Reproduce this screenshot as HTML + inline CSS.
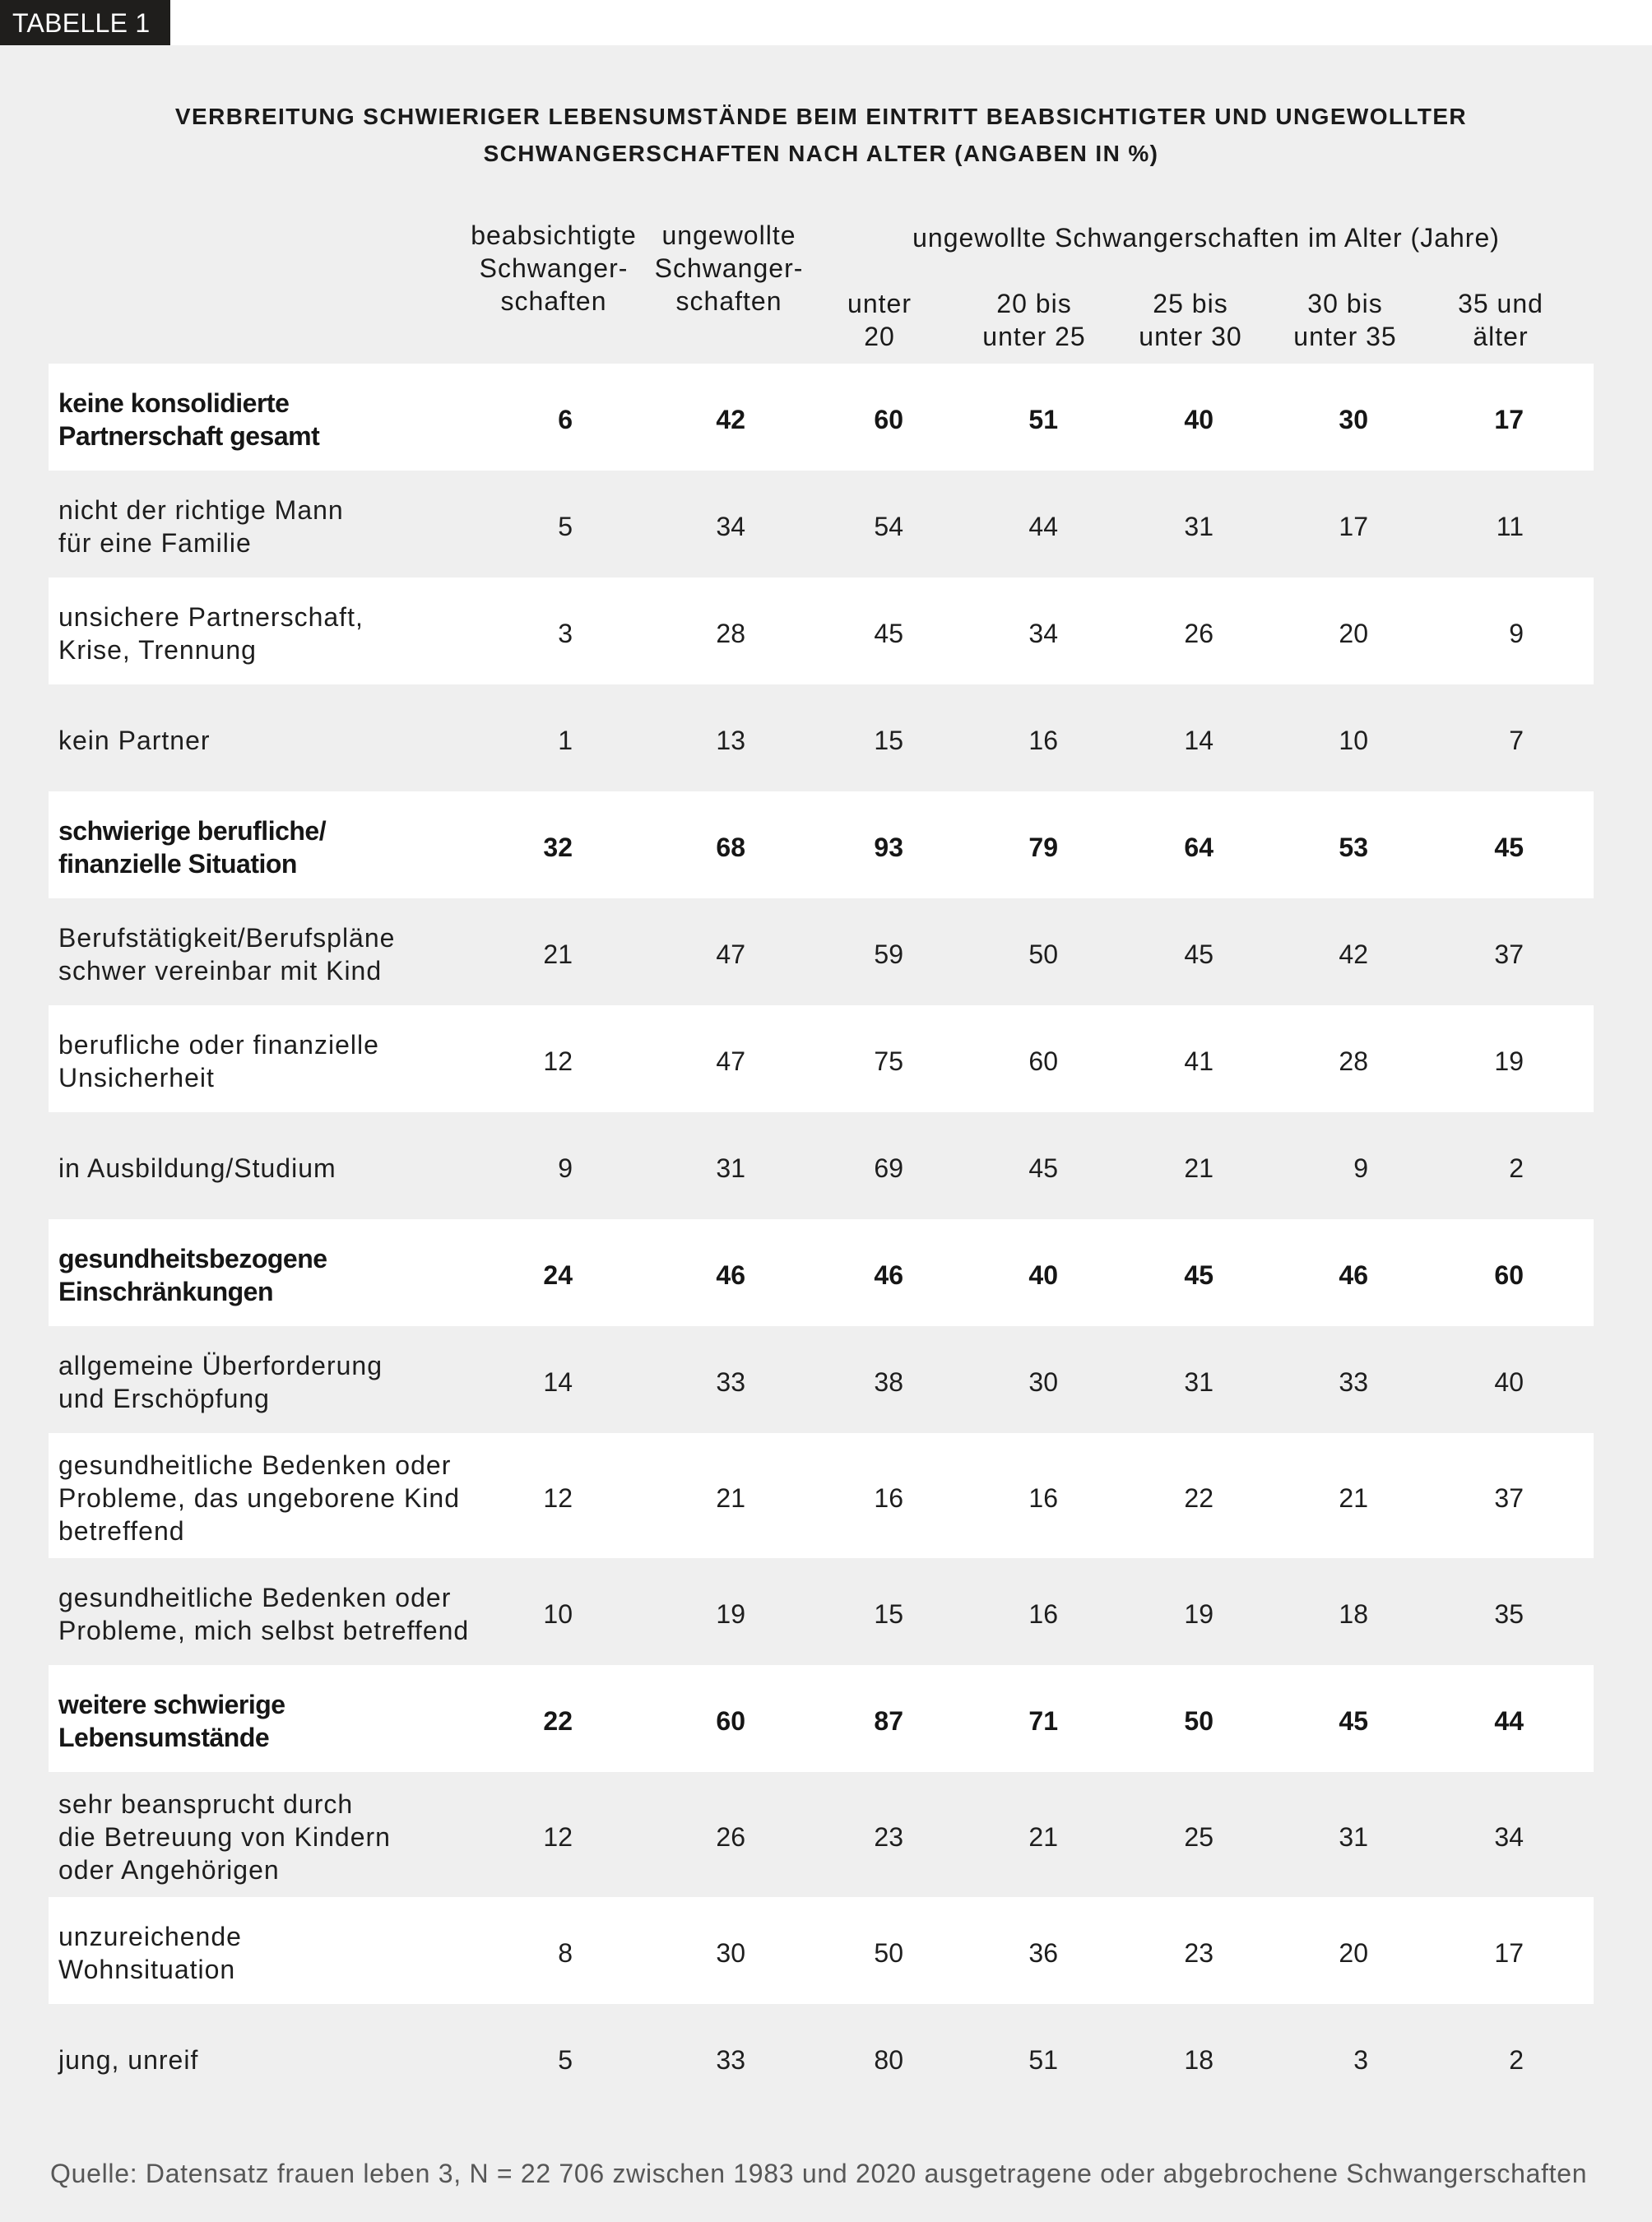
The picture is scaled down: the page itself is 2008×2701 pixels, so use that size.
<!DOCTYPE html>
<html>
<head>
<meta charset="utf-8">
<style>
  html, body { margin:0; padding:0; }
  body { width:2008px; height:2701px; background:#efefef; position:relative; overflow:hidden;
         font-family:"Liberation Sans", Arial, sans-serif; color:#1c1c1c; }
  .topband { position:absolute; left:0; top:0; width:2008px; height:55px; background:#ffffff; }
  .tab { position:absolute; left:0; top:0; width:207px; height:55px; background:#1f1e1c; color:#fff;
         font-size:32px; line-height:57px; padding-left:15px; box-sizing:border-box; letter-spacing:0.3px; }
  .title { position:absolute; left:0; top:119px; width:1996px; text-align:center; font-weight:bold;
           font-size:28px; line-height:45px; letter-spacing:1.4px; color:#1a1a1a; }
  .hd { position:absolute; text-align:center; font-size:32px; line-height:40px; letter-spacing:1px; color:#1a1a1a; white-space:nowrap; }
  .row { position:absolute; left:59px; width:1878px; }
  .row.w { background:#ffffff; }
  .lab { position:absolute; left:12px; top:3px; height:100%; display:flex; align-items:center;
         font-size:32px; line-height:40px; letter-spacing:1px; color:#1e1e1e; white-space:nowrap; }
  .row.b .lab { font-weight:bold; letter-spacing:-0.5px; color:#161616; }
  .v { position:absolute; top:3px; height:100%; display:flex; align-items:center; font-size:32px; color:#1e1e1e; }
  .row.b .v { font-weight:bold; color:#161616; }
  .c1 { right:1241px; } .c2 { right:1031px; } .c3 { right:839px; } .c4 { right:651px; }
  .c5 { right:462px; } .c6 { right:274px; } .c7 { right:85px; }
  .foot { position:absolute; left:61px; top:2622px; font-size:32px; line-height:40px; letter-spacing:0.7px;
          color:#575757; white-space:nowrap; }
</style>
</head>
<body>
<div class="topband"></div>
<div class="tab">TABELLE 1</div>

<div class="title">VERBREITUNG SCHWIERIGER LEBENSUMSTÄNDE BEIM EINTRITT BEABSICHTIGTER UND UNGEWOLLTER<br>SCHWANGERSCHAFTEN NACH ALTER (ANGABEN IN %)</div>

<div class="hd" style="left:523px; top:266px; width:300px;">beabsichtigte<br>Schwanger-<br>schaften</div>
<div class="hd" style="left:736px; top:266px; width:300px;">ungewollte<br>Schwanger-<br>schaften</div>
<div class="hd" style="left:1066px; top:269px; width:800px;">ungewollte Schwangerschaften im Alter (Jahre)</div>
<div class="hd" style="left:969px; top:349px; width:200px;">unter<br>20</div>
<div class="hd" style="left:1157px; top:349px; width:200px;">20 bis<br>unter 25</div>
<div class="hd" style="left:1347px; top:349px; width:200px;">25 bis<br>unter 30</div>
<div class="hd" style="left:1535px; top:349px; width:200px;">30 bis<br>unter 35</div>
<div class="hd" style="left:1724px; top:349px; width:200px;">35 und<br>älter</div>

<div class="row w b" style="top:442px; height:130px;">
  <div class="lab">keine konsolidierte<br>Partnerschaft gesamt</div>
  <div class="v c1">6</div><div class="v c2">42</div><div class="v c3">60</div><div class="v c4">51</div><div class="v c5">40</div><div class="v c6">30</div><div class="v c7">17</div>
</div>
<div class="row" style="top:572px; height:130px;">
  <div class="lab">nicht der richtige Mann<br>für eine Familie</div>
  <div class="v c1">5</div><div class="v c2">34</div><div class="v c3">54</div><div class="v c4">44</div><div class="v c5">31</div><div class="v c6">17</div><div class="v c7">11</div>
</div>
<div class="row w" style="top:702px; height:130px;">
  <div class="lab">unsichere Partnerschaft,<br>Krise, Trennung</div>
  <div class="v c1">3</div><div class="v c2">28</div><div class="v c3">45</div><div class="v c4">34</div><div class="v c5">26</div><div class="v c6">20</div><div class="v c7">9</div>
</div>
<div class="row" style="top:832px; height:130px;">
  <div class="lab">kein Partner</div>
  <div class="v c1">1</div><div class="v c2">13</div><div class="v c3">15</div><div class="v c4">16</div><div class="v c5">14</div><div class="v c6">10</div><div class="v c7">7</div>
</div>
<div class="row w b" style="top:962px; height:130px;">
  <div class="lab">schwierige berufliche/<br>finanzielle Situation</div>
  <div class="v c1">32</div><div class="v c2">68</div><div class="v c3">93</div><div class="v c4">79</div><div class="v c5">64</div><div class="v c6">53</div><div class="v c7">45</div>
</div>
<div class="row" style="top:1092px; height:130px;">
  <div class="lab">Berufstätigkeit/Berufspläne<br>schwer vereinbar mit Kind</div>
  <div class="v c1">21</div><div class="v c2">47</div><div class="v c3">59</div><div class="v c4">50</div><div class="v c5">45</div><div class="v c6">42</div><div class="v c7">37</div>
</div>
<div class="row w" style="top:1222px; height:130px;">
  <div class="lab">berufliche oder finanzielle<br>Unsicherheit</div>
  <div class="v c1">12</div><div class="v c2">47</div><div class="v c3">75</div><div class="v c4">60</div><div class="v c5">41</div><div class="v c6">28</div><div class="v c7">19</div>
</div>
<div class="row" style="top:1352px; height:130px;">
  <div class="lab">in Ausbildung/Studium</div>
  <div class="v c1">9</div><div class="v c2">31</div><div class="v c3">69</div><div class="v c4">45</div><div class="v c5">21</div><div class="v c6">9</div><div class="v c7">2</div>
</div>
<div class="row w b" style="top:1482px; height:130px;">
  <div class="lab">gesundheitsbezogene<br>Einschränkungen</div>
  <div class="v c1">24</div><div class="v c2">46</div><div class="v c3">46</div><div class="v c4">40</div><div class="v c5">45</div><div class="v c6">46</div><div class="v c7">60</div>
</div>
<div class="row" style="top:1612px; height:130px;">
  <div class="lab">allgemeine Überforderung<br>und Erschöpfung</div>
  <div class="v c1">14</div><div class="v c2">33</div><div class="v c3">38</div><div class="v c4">30</div><div class="v c5">31</div><div class="v c6">33</div><div class="v c7">40</div>
</div>
<div class="row w" style="top:1742px; height:152px;">
  <div class="lab">gesundheitliche Bedenken oder<br>Probleme, das ungeborene Kind<br>betreffend</div>
  <div class="v c1">12</div><div class="v c2">21</div><div class="v c3">16</div><div class="v c4">16</div><div class="v c5">22</div><div class="v c6">21</div><div class="v c7">37</div>
</div>
<div class="row" style="top:1894px; height:130px;">
  <div class="lab">gesundheitliche Bedenken oder<br>Probleme, mich selbst betreffend</div>
  <div class="v c1">10</div><div class="v c2">19</div><div class="v c3">15</div><div class="v c4">16</div><div class="v c5">19</div><div class="v c6">18</div><div class="v c7">35</div>
</div>
<div class="row w b" style="top:2024px; height:130px;">
  <div class="lab">weitere schwierige<br>Lebensumstände</div>
  <div class="v c1">22</div><div class="v c2">60</div><div class="v c3">87</div><div class="v c4">71</div><div class="v c5">50</div><div class="v c6">45</div><div class="v c7">44</div>
</div>
<div class="row" style="top:2154px; height:152px;">
  <div class="lab">sehr beansprucht durch<br>die Betreuung von Kindern<br>oder Angehörigen</div>
  <div class="v c1">12</div><div class="v c2">26</div><div class="v c3">23</div><div class="v c4">21</div><div class="v c5">25</div><div class="v c6">31</div><div class="v c7">34</div>
</div>
<div class="row w" style="top:2306px; height:130px;">
  <div class="lab">unzureichende<br>Wohnsituation</div>
  <div class="v c1">8</div><div class="v c2">30</div><div class="v c3">50</div><div class="v c4">36</div><div class="v c5">23</div><div class="v c6">20</div><div class="v c7">17</div>
</div>
<div class="row" style="top:2436px; height:130px;">
  <div class="lab">jung, unreif</div>
  <div class="v c1">5</div><div class="v c2">33</div><div class="v c3">80</div><div class="v c4">51</div><div class="v c5">18</div><div class="v c6">3</div><div class="v c7">2</div>
</div>

<div class="foot">Quelle: Datensatz frauen leben 3, N = 22 706 zwischen 1983 und 2020 ausgetragene oder abgebrochene Schwangerschaften</div>
</body>
</html>
